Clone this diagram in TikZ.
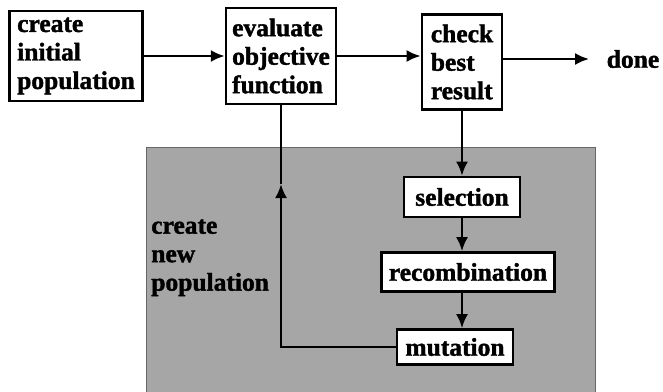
\documentclass[tikz,border=0pt]{standalone}
\usepackage{fontspec}
\setmainfont[BoldFeatures={FakeBold=1.5}]{Liberation Serif}
\usetikzlibrary{arrows.meta}

\begin{document}
\begin{tikzpicture}[x=1pt,y=-1pt,line width=2.6pt,
  every path/.style={>={Latex[length=14pt,width=12pt]}},
  every node/.style={font=\bfseries\fontsize{25.5}{28.5}\selectfont,align=left},
  box/.style={draw,fill=white,inner xsep=6pt,inner ysep=6pt}]
\useasboundingbox (0,0) rectangle (663,391);
\fill[gray!70,draw=black!60,line width=1pt] (146,147) rectangle (595,400);
\node[box,minimum width=133pt,minimum height=90pt] (init)  at (76,56)   {create\\initial\\population};
\node[box,minimum width=108pt,minimum height=96pt] (eval)  at (281,56)  {evaluate\\objective\\function};
\node[box,minimum width=80pt,minimum height=95pt]  (check) at (462,62)  {check\\best\\result};
\node                                              (done)  at (633,59)  {done};
\node[box,minimum width=116pt,minimum height=40pt] (sel)   at (462,197) {selection};
\node[box,minimum width=173pt,minimum height=39pt] (rec)   at (468,272) {recombination};
\node[box,minimum width=116pt,minimum height=35pt] (mut)   at (455,347) {mutation};
\node[inner sep=2pt,anchor=north west] (newpop) at (148,216) {create\\new\\population};
\coordinate (turn) at (eval.south |- mut.west);
\coordinate (up)   at (281,184);
\draw[->] (init) -- (eval);
\draw[->] (eval) -- (eval -| check.west);
\draw[->,shorten >=13pt] (check.east |- done) -- (done);
\draw[->] (check) -- (check |- sel.north);
\draw[->] (check |- sel.south) -- (check |- rec.north);
\draw[->] (check |- rec.south) -- (check |- mut.north);
\draw[->] (mut) -- (turn) -- (up);
\draw     (up) -- (eval);
\end{tikzpicture}
\end{document}
